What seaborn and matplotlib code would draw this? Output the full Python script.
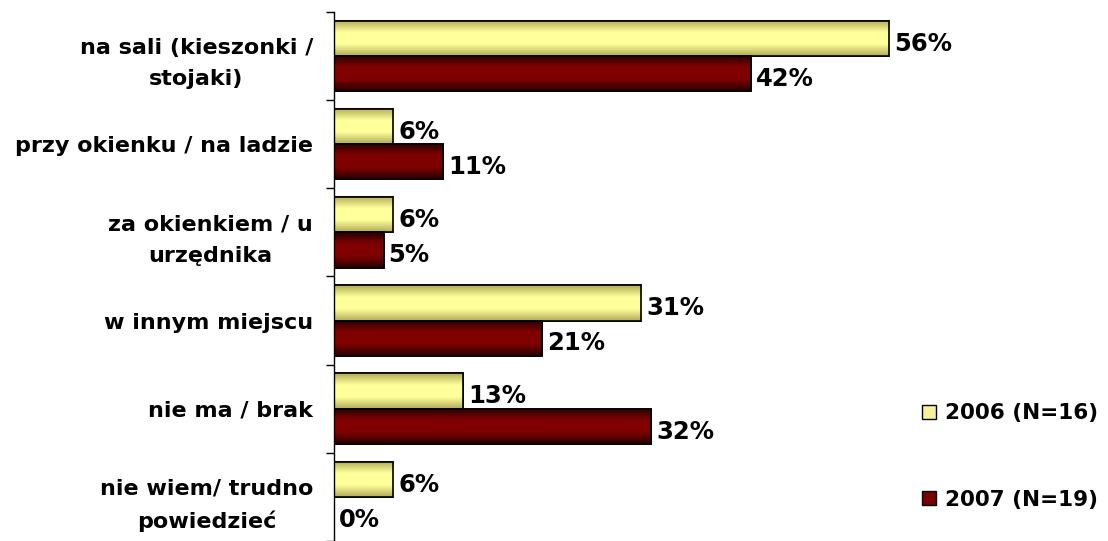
import numpy as np
import pandas as pd
import matplotlib
matplotlib.use("Agg")
import matplotlib.pyplot as plt
import seaborn as sns
from matplotlib.colors import LinearSegmentedColormap
from matplotlib.lines import Line2D

categories = [
    "na sali (kieszonki /\nstojaki)",
    "przy okienku / na ladzie",
    "za okienkiem / u\nurzędnika",
    "w innym miejscu",
    "nie ma / brak",
    "nie wiem/ trudno\npowiedzieć",
]
series_names = ["2006 (N=16)", "2007 (N=19)"]
values_2006 = [56, 6, 6, 31, 13, 6]
values_2007 = [42, 11, 5, 21, 32, 0]

colors = ["#F6F29A", "#7A0000"]

df = pd.DataFrame({
    "kategoria": categories * 2,
    "rok": [series_names[0]] * len(categories) + [series_names[1]] * len(categories),
    "wartosc": values_2006 + values_2007,
})

sns.set_style("white")
plt.rcParams["font.family"] = ["DejaVu Sans"]
plt.rcParams["font.weight"] = "bold"
plt.rcParams["text.color"] = "black"
plt.rcParams["ytick.labelcolor"] = "black"

fig = plt.figure(figsize=(11.08, 5.41), dpi=100)
ax = fig.add_axes([0.3014, 0.0, 0.555, 0.978])

sns.barplot(data=df, y="kategoria", x="wartosc", hue="rok", orient="h",
            palette=colors, edgecolor="black", linewidth=1.2, width=0.8,
            ax=ax, legend=False, saturation=1)

# vertical shading inside each bar
grad_maps = [
    LinearSegmentedColormap.from_list("g1", ["#B2AC55", "#FFFF9C", "#FFFF9C", "#B2AC55"]),
    LinearSegmentedColormap.from_list("g2", ["#2A0000", "#800000", "#800000", "#2A0000"]),
]
grad = np.linspace(0, 1, 64).reshape(-1, 1)
n = len(categories)
for i, patch in enumerate(ax.patches[:2 * n]):
    s = i // n
    x0, y0 = patch.get_x(), patch.get_y()
    w, h = patch.get_width(), patch.get_height()
    if w <= 0:
        continue
    im = ax.imshow(grad, cmap=grad_maps[s], aspect="auto",
                   extent=(x0, x0 + w, y0 + h, y0), zorder=patch.get_zorder() + 0.1,
                   interpolation="bilinear")
    im.set_clip_path(patch)
    edge = plt.Rectangle((x0, y0), w, h, fill=False, edgecolor="black",
                         linewidth=1.2, zorder=patch.get_zorder() + 0.2)
    ax.add_patch(edge)

# value labels
for s, vals in enumerate([values_2006, values_2007]):
    for i, v in enumerate(vals):
        yc = i - 0.2 + 0.4 * s + 0.06
        ax.text(v + 0.5, yc, f"{v}%", va="center", ha="left",
                fontsize=17.5, fontweight="bold", color="black")

ax.set_xlim(0, 62)
ax.set_ylim(n - 0.5, -0.5)
ax.set_xlabel("")
ax.set_ylabel("")
ax.set_xticks([])
for side in ["top", "right", "bottom"]:
    ax.spines[side].set_visible(False)
ax.spines["left"].set_color("black")
ax.spines["left"].set_linewidth(1.0)

ax.set_yticks(range(n))
ax.set_yticklabels(categories, fontsize=16, fontweight="bold", color="black",
                   multialignment="center", linespacing=1.7)
ax.tick_params(axis="y", which="major", length=0, pad=15)
ax.set_yticks(np.arange(-0.5, n, 1.0), minor=True)
ax.tick_params(axis="y", which="minor", length=6, width=1.0, direction="out", color="black", left=True)

handles = [Line2D([], [], marker="s", linestyle="none", markersize=10,
                  markerfacecolor=c, markeredgecolor="black", markeredgewidth=1.0)
           for c in colors]
leg = fig.legend(handles, series_names, loc="center left", bbox_to_anchor=(0.812, 0.156),
                 frameon=False, prop={"size": 15.5, "weight": "bold"}, labelspacing=3.1,
                 handletextpad=0.3, handlelength=0.9)
for t in leg.get_texts():
    t.set_color("black")

fig.savefig("out.png", dpi=100)
